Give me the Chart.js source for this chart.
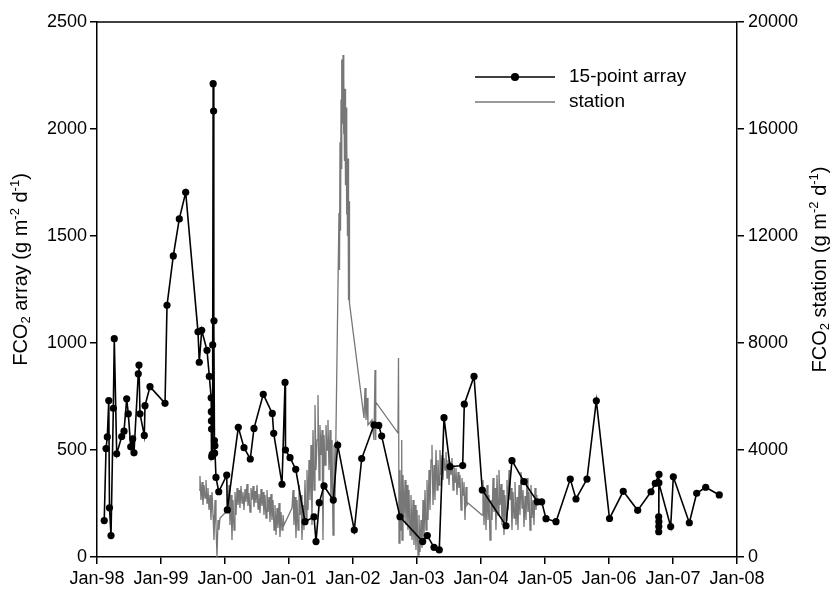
<!DOCTYPE html>
<html>
<head>
<meta charset="utf-8">
<script src="https://cdn.jsdelivr.net/npm/chart.js@4.4.0/dist/chart.umd.min.js"></script>
<style>
  html, body { margin: 0; padding: 0; background: #fff; }
  #wrap { width: 830px; height: 592px; }
</style>
</head>
<body>
<div id="wrap"><canvas id="chart" width="830" height="592"></canvas></div>
<script>
// x ticks (years), y ticks for each axis
const xYears = [1998, 1999, 2000, 2001, 2002, 2003, 2004, 2005, 2006, 2007, 2008];
const leftTicks = [0, 500, 1000, 1500, 2000, 2500];
const rightTicks = [0, 4000, 8000, 12000, 16000, 20000];

// 15-point array: [decimal year, FCO2 g m-2 d-1]
const arrayPoints = [
  [1998.113,170],[1998.141,507],[1998.161,561],[1998.184,731],[1998.195,230],[1998.219,100],
  [1998.255,695],[1998.270,1020],[1998.308,482],[1998.386,563],[1998.422,588],[1998.464,739],
  [1998.489,669],[1998.527,515],[1998.558,552],[1998.578,487],[1998.645,856],[1998.656,897],
  [1998.672,669],[1998.739,568],[1998.750,707],[1998.828,796],[1999.063,718],[1999.094,1176],
  [1999.192,1407],[1999.286,1580],[1999.386,1704],[1999.578,1052],[1999.598,910],[1999.636,1059],
  [1999.719,966],[1999.755,844],[1999.784,744],[1999.786,679],[1999.788,636],[1999.790,598],
  [1999.792,469],[1999.800,480],[1999.808,991],[1999.815,2212],[1999.822,2084],[1999.828,1104],
  [1999.835,544],[1999.838,485],[1999.842,520],[1999.859,372],[1999.902,305],[2000.027,383],
  [2000.036,220],[2000.208,606],[2000.297,511],[2000.395,458],[2000.453,601],[2000.598,760],
  [2000.739,671],[2000.761,578],[2000.891,340],[2000.938,816],[2000.945,500],[2001.016,464],
  [2001.105,410],[2001.250,165],[2001.391,188],[2001.422,72],[2001.473,254],[2001.547,332],
  [2001.692,266],[2001.761,523],[2002.020,126],[2002.136,460],[2002.328,617],[2002.402,615],
  [2002.448,565],[2002.734,188],[2003.089,72],[2003.161,100],[2003.266,45],[2003.348,33],
  [2003.422,651],[2003.516,422],[2003.714,427],[2003.739,714],[2003.891,844],[2004.020,313],
  [2004.391,146],[2004.484,450],[2004.672,352],[2004.880,258],[2004.948,258],[2005.016,179],
  [2005.172,165],[2005.395,364],[2005.484,271],[2005.656,364],[2005.802,730],[2006.008,180],
  [2006.223,307],[2006.448,218],[2006.656,305],[2006.723,344],[2006.781,386],[2006.777,118],
  [2006.778,142],[2006.779,165],[2006.776,188],[2006.780,347],[2006.964,142],[2007.005,375],
  [2007.255,160],[2007.370,298],[2007.511,326],[2007.723,290]
];

// station: [decimal year, FCO2 g m-2 d-1]
const stationPoints = [
  // late 1999
  [1999.594,2504],[1999.609,3028],[1999.625,2131],[1999.641,2804],[1999.656,1944],[1999.672,2691],
  [1999.688,2205],[1999.703,2878],[1999.719,2019],[1999.734,2579],[1999.750,1757],[1999.766,2318],
  [1999.781,1383],[1999.797,2430],[1999.813,1570],[1999.828,635],[1999.844,2131],[1999.859,1196],
  [1999.875,0],[1999.891,1383],[1999.906,1009],[1999.922,1458],
  // 2000
  [2000.047,1757],[2000.063,2691],[2000.078,1196],[2000.094,2318],[2000.109,635],[2000.125,2131],
  [2000.141,1009],[2000.156,2430],[2000.172,1570],[2000.188,2579],[2000.203,1944],[2000.219,2504],
  [2000.234,1832],[2000.250,2654],[2000.266,2019],[2000.281,2430],[2000.297,1757],[2000.313,2542],
  [2000.328,2056],[2000.344,2729],[2000.359,1906],[2000.375,2392],[2000.391,1682],[2000.406,2579],
  [2000.422,2131],[2000.438,2654],[2000.453,1869],[2000.469,2467],[2000.484,2019],[2000.500,2691],
  [2000.516,1794],[2000.531,2355],[2000.547,1645],[2000.563,2542],[2000.578,1906],[2000.594,2430],
  [2000.609,1570],[2000.625,2318],[2000.641,1458],[2000.656,2504],[2000.672,1682],[2000.688,2243],
  [2000.703,1308],[2000.719,2355],[2000.734,1383],[2000.750,2131],[2000.766,1009],[2000.781,1944],
  [2000.797,822],[2000.813,1832],[2000.828,1084],[2000.844,2019],[2000.859,748],[2000.875,1682],
  [2000.891,1009],[2000.906,1570],[2000.922,1196],
  // 2001
  [2001.047,1832],[2001.063,2504],[2001.078,1196],[2001.094,2243],[2001.109,710],[2001.125,2131],
  [2001.141,1009],[2001.156,2691],[2001.172,1570],[2001.188,2318],[2001.203,635],[2001.219,1944],
  [2001.234,1009],[2001.250,2878],[2001.266,1383],[2001.281,3252],[2001.297,1757],[2001.313,3626],
  [2001.328,2131],[2001.344,4187],[2001.359,1196],[2001.375,4747],[2001.391,2504],[2001.406,5682],
  [2001.422,3252],[2001.438,4373],[2001.453,6056],[2001.469,2878],[2001.484,4934],[2001.500,3813],
  [2001.516,4747],[2001.531,635],[2001.547,4560],[2001.563,3439],[2001.578,4934],[2001.594,4000],
  [2001.609,5121],[2001.625,3252],[2001.641,4747],[2001.656,2131],[2001.672,4373],[2001.688,822],
  [2001.703,4187],[2001.719,2131],
  // late-2001 peak
  [2001.781,12860],[2001.789,10730],[2001.797,15500],[2001.805,12200],[2001.813,17100],[2001.820,14500],
  [2001.828,18600],[2001.836,16200],[2001.844,18765],[2001.852,15800],[2001.859,18000],[2001.867,14800],
  [2001.875,17500],[2001.883,13900],[2001.891,16800],[2001.898,12800],[2001.906,15600],[2001.914,12000],
  [2001.922,14900],[2001.930,9600],[2001.938,13300],[2001.945,9495],
  // 2002
  [2002.172,5196],[2002.188,6317],[2002.203,5121],[2002.219,5943],[2002.234,4934],[2002.297,5121],
  [2002.328,4373],[2002.344,6990],[2002.352,4373],[2002.359,5794],[2002.703,4635],[2002.711,7439],
  [2002.719,523],[2002.734,3252],[2002.750,1009],[2002.761,4373],[2002.766,635],[2002.781,3065],
  [2002.797,1383],[2002.813,2878],[2002.828,1196],[2002.844,2691],[2002.859,1009],[2002.875,2504],
  [2002.891,822],[2002.906,2318],[2002.922,635],[2002.938,2131],[2002.953,449],[2002.969,1944],
  [2002.984,262],
  // 2003
  [2003.000,1757],[2003.016,75],[2003.031,1570],[2003.047,187],[2003.063,1383],[2003.078,336],
  [2003.094,2131],[2003.109,635],[2003.125,2504],[2003.141,1009],[2003.156,2878],[2003.172,1383],
  [2003.188,3252],[2003.203,1757],[2003.219,3626],[2003.234,4187],[2003.250,1944],[2003.266,3439],
  [2003.281,2131],[2003.297,4000],[2003.313,2504],[2003.328,3626],[2003.344,2691],[2003.359,4000],
  [2003.375,3065],[2003.391,3813],[2003.406,2878],[2003.422,3700],[2003.438,3252],[2003.453,3925],
  [2003.469,2953],[2003.484,3626],[2003.500,2691],[2003.516,3551],[2003.531,3065],[2003.547,3700],
  [2003.563,2504],[2003.578,3439],[2003.594,2804],[2003.609,3327],[2003.625,2318],[2003.641,3177],
  [2003.656,2579],[2003.672,3065],[2003.688,1757],[2003.703,2953],[2003.719,2318],[2003.734,2804],
  [2003.750,1383],[2003.766,2617],[2003.781,1944],[2003.797,2019],
  // 2004
  [2004.016,1570],[2004.031,2878],[2004.047,1196],[2004.063,2504],[2004.078,1009],[2004.094,2691],
  [2004.109,1383],[2004.125,2318],[2004.141,635],[2004.156,2131],[2004.172,1383],[2004.188,2953],
  [2004.203,1682],[2004.219,2579],[2004.234,1009],[2004.250,3065],[2004.266,1570],[2004.281,3252],
  [2004.297,1944],[2004.313,2729],[2004.328,1196],[2004.344,2504],[2004.359,822],[2004.375,2318],
  [2004.391,1383],[2004.406,2878],[2004.422,1757],[2004.438,3252],[2004.453,2131],[2004.469,2579],
  [2004.484,1009],[2004.500,2430],[2004.516,1458],[2004.531,2804],[2004.547,1196],[2004.563,2243],
  [2004.578,1009],[2004.594,2691],[2004.609,1570],[2004.625,3177],[2004.641,1832],[2004.656,2504],
  [2004.672,1121],[2004.688,2280],[2004.703,1383],[2004.719,2953],[2004.734,1682],[2004.750,2430],
  [2004.766,1009],[2004.781,2691],[2004.797,1458],[2004.813,2131],[2004.828,1196],[2004.844,2579],
  [2004.859,1757],[2004.875,2318]
];

const FONT = 'Liberation Sans, Arial, Helvetica, sans-serif';
Chart.defaults.font.family = FONT;
Chart.defaults.font.size = 18;
Chart.defaults.color = '#000';

const toXY = pts => pts.map(p => ({ x: p[0], y: p[1] }));

// axis titles with sub/superscripts, reading bottom to top
function drawTitle(ctx, parts, cx, cy) {
  const big = '20px ' + FONT, small = '13px ' + FONT;
  ctx.save();
  ctx.translate(cx, cy);
  ctx.rotate(-Math.PI / 2);
  ctx.fillStyle = '#000';
  ctx.textBaseline = 'middle';
  let w = 0;
  parts.forEach(p => { ctx.font = p[1] ? small : big; w += ctx.measureText(p[0]).width; });
  let x = -w / 2;
  parts.forEach(p => {
    ctx.font = p[1] ? small : big;
    const dy = p[1] === 'sub' ? 5 : p[1] === 'sup' ? -6 : 0;
    ctx.fillText(p[0], x, dy);
    x += ctx.measureText(p[0]).width;
  });
  ctx.restore();
}

const decorations = {
  id: 'decorations',
  afterDraw(chart) {
    const { ctx, chartArea: a } = chart;
    // top frame line
    ctx.save();
    ctx.strokeStyle = '#000';
    ctx.lineWidth = 1.5;
    ctx.beginPath();
    ctx.moveTo(a.left, a.top);
    ctx.lineTo(a.right, a.top);
    ctx.stroke();
    ctx.restore();

    const mid = (a.top + a.bottom) / 2 - 20;
    drawTitle(ctx, [['FCO'], ['2', 'sub'], [' array (g m'], ['-2', 'sup'], [' d'], ['-1', 'sup'], [')']], 21, mid);
    drawTitle(ctx, [['FCO'], ['2', 'sub'], [' station (g m'], ['-2', 'sup'], [' d'], ['-1', 'sup'], [')']], 820, mid);

    // legend
    const lx = a.left + 378, ty = a.top + 55;
    chart.data.datasets.forEach((ds, i) => {
      const y = ty + i * 25;
      ctx.save();
      ctx.strokeStyle = ds.borderColor;
      ctx.lineWidth = ds.borderWidth;
      ctx.beginPath();
      ctx.moveTo(lx, y);
      ctx.lineTo(lx + 80, y);
      ctx.stroke();
      if (ds.pointRadius > 0) {
        ctx.fillStyle = ds.pointBackgroundColor;
        ctx.beginPath();
        ctx.arc(lx + 40, y, ds.pointRadius + 0.5, 0, Math.PI * 2);
        ctx.fill();
      }
      ctx.fillStyle = '#000';
      ctx.font = '19px ' + FONT;
      ctx.textBaseline = 'middle';
      ctx.fillText(ds.label, lx + 94, y);
      ctx.restore();
    });
  }
};

const axisStyle = {
  grid: { display: true, drawOnChartArea: false, drawTicks: true, tickLength: 7, color: '#000', lineWidth: 1.5 },
  border: { display: true, color: '#000', width: 1.5 }
};

new Chart(document.getElementById('chart'), {
  type: 'line',
  data: {
    datasets: [
      {
        label: '15-point array',
        data: toXY(arrayPoints),
        yAxisID: 'y',
        borderColor: '#000',
        borderWidth: 1.6,
        pointRadius: 3.6,
        pointBackgroundColor: '#000',
        pointBorderColor: '#000',
        pointBorderWidth: 0
      },
      {
        label: 'station',
        data: toXY(stationPoints),
        yAxisID: 'y2',
        borderColor: '#777777',
        borderWidth: 1.3,
        pointRadius: 0
      }
    ]
  },
  options: {
    responsive: false,
    animation: false,
    devicePixelRatio: 1,
    layout: { padding: { top: 22, left: 0, right: 0, bottom: 0 } },
    plugins: { legend: { display: false }, tooltip: { enabled: false } },
    scales: {
      x: {
        type: 'linear',
        min: xYears[0],
        max: xYears[xYears.length - 1],
        afterBuildTicks: s => { s.ticks = xYears.map(v => ({ value: v })); },
        ticks: { callback: v => 'Jan-' + String(Math.round(v)).slice(2), maxRotation: 0, autoSkip: false, padding: 4 },
        afterFit: s => { s.height = 35; },
        ...axisStyle
      },
      y: {
        position: 'left',
        min: 0,
        max: 2500,
        afterBuildTicks: s => { s.ticks = leftTicks.map(v => ({ value: v })); },
        ticks: { padding: 3, callback: v => String(v) },
        afterFit: s => { s.width = 97; },
        ...axisStyle
      },
      y2: {
        position: 'right',
        min: 0,
        max: 20000,
        afterBuildTicks: s => { s.ticks = rightTicks.map(v => ({ value: v })); },
        ticks: { padding: 4, callback: v => String(v) },
        afterFit: s => { s.width = 93; },
        ...axisStyle
      }
    }
  },
  plugins: [decorations]
});
</script>
</body>
</html>
